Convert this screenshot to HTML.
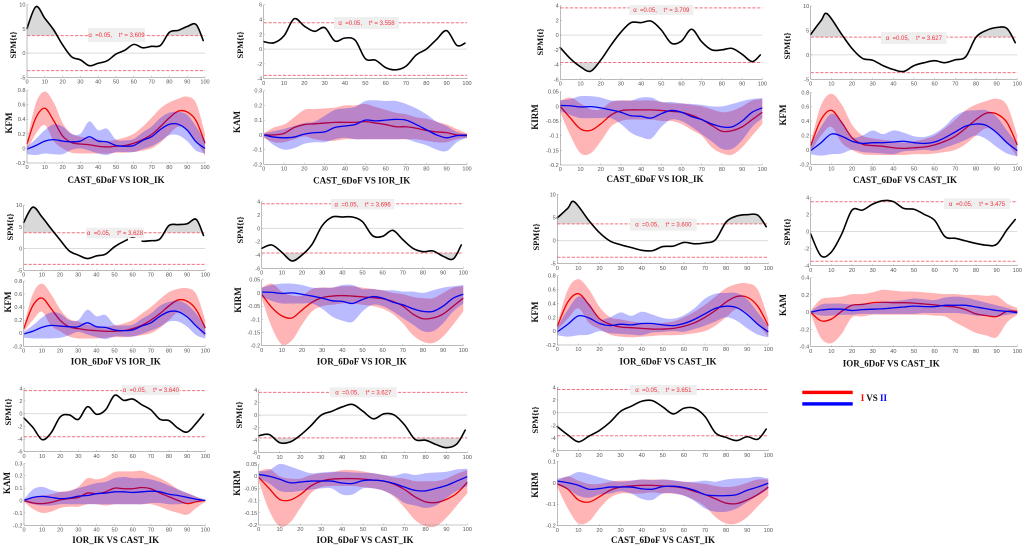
<!DOCTYPE html>
<html lang="en">
<head>
<meta charset="utf-8">
<title>SPM comparison panels</title>
<style>
html,body{margin:0;padding:0;background:#fff;width:1024px;height:549px;overflow:hidden}
svg{display:block;filter:blur(0.3px)}
.tick{font-family:"Liberation Sans",sans-serif;font-size:5.6px;fill:#555}
.lab{font-family:"Liberation Serif",serif;font-weight:bold;fill:#111}
.stat{font-family:"Liberation Sans",sans-serif;font-size:6px;fill:#f0303c;white-space:pre}
</style>
</head>
<body>
<svg id="chart" xmlns="http://www.w3.org/2000/svg" width="1024" height="549" viewBox="0 0 1024 549"></svg>
<script>
// Shared axis data
const gaitX=[0,5,10,15,20,25,30,35,40,45,50,55,60,65,70,75,80,85,90,95,100];
const spmX=[0,5,10,15,20,25,30,35,40,45,50,55,60,65,70,75,80,85,90,95,99];
const spmEarlyPeakX=[0,5,8,15,20,25,30,35,40,45,50,55,60,65,70,75,80,85,90,95,99];
const xTicks=[0,10,20,30,40,50,60,70,80,90,100];
const spmTicksA=[-5,0,5,10];
const spmTicksB=[-4,-2,0,2,4,6];
const spmTicksC=[-6,-4,-2,0,2,4];
const spmTicksD=[-4,-2,0,2,4];
const kfmTicks=[-0.2,0,0.2,0.4,0.6,0.8];
const kamTicksA=[-0.2,-0.1,0,0.1,0.2,0.3];
const kamTicksB=[-0.4,-0.2,0,0.2,0.4];
const kirmTicksA=[-0.2,-0.15,-0.1,-0.05,0,0.05];
const kirmTicksB=[-0.2,-0.1,0,0.1];

// Panel 1: CAST_6DoF VS IOR_IK (KFM)
const p1Spm=[5.1,9.6,7.2,4.8,1.7,-0.75,-1.4,-2.6,-2.1,-1.6,-0.2,0.6,1.8,1.1,1.4,1.6,4.3,4.7,5.5,5.9,2.6];
const p1RedMean=[.06,.42,.55,.38,.17,.08,.06,.05,.03,.02,.03,.04,.07,.12,.19,.30,.42,.51,.50,.38,.07];
const p1RedHi=[.10,.62,.78,.63,.35,.2,.16,.14,.12,.10,.12,.15,.2,.3,.42,.55,.63,.68,.71,.62,.2];
const p1RedLo=[-.03,.2,.32,.1,0,-.06,-.07,-.07,-.07,-.07,-.06,-.06,-.05,-.03,0,.08,.2,.3,.25,.1,-.1];
const p1BlueMean=[-.01,.04,.1,.12,.1,.09,.1,.16,.1,.09,.04,.03,.04,.11,.16,.26,.33,.33,.25,.09,0];
const p1BlueHi=[.02,.13,.25,.33,.3,.2,.2,.37,.25,.27,.12,.11,.13,.22,.3,.42,.49,.5,.46,.3,.1];
const p1BlueLo=[-.08,-.09,-.07,-.08,-.08,-.02,0,-.03,-.07,-.09,-.05,-.05,-.05,-.01,.03,.1,.18,.18,.1,-.03,-.07];

// Panel 2: CAST_6DoF VS IOR_IK (KAM)
const p2Spm=[1,0.85,1.8,4.1,3.1,2.4,2.9,1.1,1.5,1.2,-1.3,-1.5,-2.5,-2.8,-2.3,-0.8,0,1.3,2.5,0.5,0.8];
const p2RedMean=[0,0,.01,.05,.07,.075,.08,.085,.085,.085,.09,.08,.07,.055,.055,.045,.03,.02,.015,0,0];
const p2RedHi=[.01,.05,.07,.12,.17,.175,.18,.185,.2,.2,.21,.19,.17,.15,.14,.12,.11,.09,.07,.04,.01];
const p2RedLo=[-.02,-.05,-.05,-.03,-.01,-.03,-.04,-.04,-.03,-.03,-.03,-.03,-.03,-.03,-.03,-.03,-.04,-.05,-.05,-.03,-.02];
const p2BlueMean=[0,-.015,-.02,-.015,.005,.015,.02,.05,.06,.07,.1,.095,.1,.105,.1,.07,.035,0,-.02,-.005,-.005];
const p2BlueHi=[.01,.025,.04,.06,.08,.09,.13,.17,.18,.19,.23,.235,.23,.23,.21,.18,.14,.09,.06,.02,.005];
const p2BlueLo=[-.01,-.07,-.1,-.09,-.06,-.05,-.05,-.03,-.02,-.03,-.03,-.03,-.03,-.03,-.03,-.05,-.07,-.1,-.11,-.05,-.02];

// Panel 3: CAST_6DoF VS IOR_IK (KIRM)
const p3Spm=[-1.7,-3.2,-4.3,-4.9,-3.4,-1.4,0.4,1.7,1.7,1.9,0.7,-1.1,-0.8,0.8,-0.9,-2,-2,-1.8,-2.6,-3.6,-2.7];
const p3RedMean=[0,-.04,-.077,-.082,-.06,-.03,-.015,-.012,-.012,-.012,-.014,-.017,-.02,-.03,-.045,-.065,-.085,-.083,-.07,-.045,-.02];
const p3RedHi=[.02,.03,.01,-.01,-.01,.015,.02,.02,.02,.02,.015,.01,.01,.005,0,-.01,-.02,-.015,0,.02,.025];
const p3RedLo=[-.02,-.1,-.16,-.16,-.12,-.07,-.05,-.045,-.045,-.045,-.05,-.05,-.06,-.08,-.1,-.14,-.16,-.165,-.14,-.1,-.06];
const p3BlueMean=[.003,.002,-.002,-.001,-.005,-.012,-.02,-.032,-.034,-.04,-.025,-.014,-.02,-.035,-.045,-.06,-.07,-.07,-.05,-.02,-.005];
const p3BlueHi=[.02,.025,.035,.035,.03,.02,.02,.02,.03,.03,.015,.015,.01,.008,.005,0,0,.008,.018,.025,.028];
const p3BlueLo=[-.015,-.03,-.04,-.04,-.04,-.04,-.06,-.09,-.105,-.11,-.07,-.045,-.05,-.07,-.095,-.12,-.145,-.145,-.115,-.07,-.04];

// Panel 4: CAST_6DoF VS CAST_IK (KFM)
const p4Spm=[4.2,7,8.4,4.2,1.3,-0.7,-1.1,-2.2,-3,-3.4,-2.2,-1.6,-1.2,-1.6,-1,-0.4,3.6,5,5.6,5.4,2.5];
const p4RedMean=[.06,.42,.55,.38,.17,.08,.06,.05,.03,.02,.03,.04,.07,.12,.19,.30,.42,.51,.50,.38,.07];
const p4RedHi=[.10,.62,.78,.63,.35,.2,.16,.14,.12,.10,.12,.15,.2,.3,.42,.55,.63,.68,.71,.62,.2];
const p4RedLo=[-.03,.2,.32,.1,0,-.06,-.07,-.07,-.07,-.07,-.06,-.06,-.05,-.03,0,.08,.2,.3,.25,.1,-.1];
const p4BlueMean=[-.01,.1,.22,.19,.12,.09,.1,.1,.11,.12,.1,.09,.11,.17,.25,.33,.36,.34,.24,.1,-.01];
const p4BlueHi=[.07,.32,.5,.4,.18,.2,.27,.22,.27,.24,.19,.18,.23,.33,.47,.54,.55,.55,.46,.27,.08];
const p4BlueLo=[-.06,-.08,-.06,-.05,0,-.03,-.04,-.05,-.06,-.02,-.01,0,-.01,.03,.08,.14,.2,.15,.04,-.05,-.09];

// Panel 5: IOR_6DoF VS IOR_IK (KFM)
const p5Spm=[6,9.5,7.3,4.6,2,-0.5,-1.5,-2.3,-1.7,-1.3,0.4,1.6,2.4,1.7,1.8,2.2,5.3,5.5,5.7,6.7,3];
const p5RedMean=[.07,.42,.54,.38,.2,.1,.07,.05,.04,.03,.03,.04,.07,.12,.2,.3,.42,.51,.49,.36,.08];
const p5RedHi=[.1,.6,.76,.6,.37,.22,.18,.13,.11,.1,.12,.15,.2,.3,.4,.52,.63,.68,.69,.6,.2];
const p5RedLo=[.02,.2,.33,.12,.03,-.05,-.08,-.08,-.08,-.07,-.06,-.06,-.05,-.03,0,.08,.2,.32,.27,.1,-.05];
const p5BlueMean=[-.01,.03,.09,.12,.11,.1,.1,.16,.1,.09,.05,.04,.05,.11,.16,.26,.33,.33,.25,.11,-.01];
const p5BlueHi=[.02,.12,.24,.32,.3,.2,.2,.36,.26,.28,.13,.12,.13,.22,.3,.42,.48,.5,.44,.3,.1];
const p5BlueLo=[-.07,-.08,-.08,-.08,-.07,-.03,.02,-.02,-.06,-.09,-.05,-.05,-.05,-.01,.04,.1,.18,.18,.1,-.03,-.08];

// Panel 6: IOR_6DoF VS IOR_IK (KIRM)
const p6Spm=[-3,-2.5,-3.6,-4.9,-4,-2.4,0.4,1.7,1.7,1.7,1,-1.1,-1.2,-0.3,-1.7,-3,-3.5,-3.4,-4.2,-4.6,-2.5];
const p6RedMean=[-.005,-.055,-.087,-.095,-.065,-.035,-.018,-.012,-.01,-.012,-.015,-.018,-.022,-.032,-.05,-.08,-.098,-.095,-.08,-.05,-.02];
const p6RedHi=[.02,.035,.005,-.01,-.01,.015,.02,.02,.025,.025,.02,.015,.01,0,-.005,-.015,-.02,-.02,0,.02,.025];
const p6RedLo=[-.02,-.13,-.195,-.18,-.12,-.07,-.05,-.045,-.04,-.04,-.045,-.05,-.06,-.08,-.115,-.16,-.185,-.19,-.165,-.12,-.07];
const p6BlueMean=[.003,.002,-.002,0,-.005,-.012,-.02,-.03,-.032,-.04,-.025,-.014,-.02,-.035,-.045,-.06,-.07,-.07,-.05,-.02,-.005];
const p6BlueHi=[.02,.03,.035,.035,.03,.02,.02,.02,.03,.03,.015,.015,.01,.01,.005,.005,0,.01,.02,.025,.03];
const p6BlueLo=[-.015,-.03,-.04,-.04,-.04,-.04,-.06,-.09,-.105,-.11,-.07,-.045,-.05,-.07,-.095,-.12,-.145,-.145,-.115,-.07,-.04];

// Panel 7: IOR_6DoF VS CAST_IK (KFM)
const p7Spm=[4.9,7,8.4,4.3,1.7,-0.1,-0.9,-1.5,-2.1,-2.2,-1.3,-1.2,-0.4,-0.7,-0.5,0.2,4,5.3,5.6,5.5,3];
const p7RedMean=[.07,.42,.54,.38,.18,.1,.06,.05,.04,.03,.03,.04,.07,.12,.2,.3,.42,.5,.49,.36,.08];
const p7RedHi=[.1,.6,.75,.6,.35,.2,.17,.14,.12,.1,.12,.14,.2,.28,.38,.5,.62,.68,.69,.6,.18];
const p7RedLo=[.02,.18,.33,.12,.03,-.05,-.08,-.09,-.08,-.07,-.06,-.06,-.05,-.03,0,.08,.2,.32,.26,.1,-.08];
const p7BlueMean=[-.01,.1,.22,.19,.11,.08,.1,.09,.11,.11,.09,.08,.11,.17,.25,.33,.36,.34,.24,.1,-.01];
const p7BlueHi=[.06,.31,.5,.4,.18,.2,.27,.22,.28,.24,.19,.18,.23,.33,.47,.54,.55,.55,.46,.27,.07];
const p7BlueLo=[-.06,-.08,-.06,-.05,0,-.03,-.04,-.05,-.06,-.02,-.01,0,-.01,.03,.08,.14,.2,.15,.04,-.05,-.09];

// Panel 8: IOR_6DoF VS CAST_IK (KAM)
const p8Spm=[-0.3,-2.85,-2.4,-0.3,2.5,2.5,3.2,3.6,3.5,2.7,2.6,2,1.3,-0.6,-0.8,-1.1,-1.4,-1.6,-1.5,0.2,1.4];
const p8RedMean=[0,-.1,-.08,.01,.08,.09,.11,.115,.11,.11,.105,.095,.085,.07,.06,.03,-.02,-.04,-.05,.01,.01];
const p8RedHi=[.02,.15,.17,.18,.21,.21,.23,.26,.25,.24,.24,.23,.22,.21,.21,.2,.2,.19,.19,.1,.05];
const p8RedLo=[-.02,-.3,-.36,-.25,-.06,-.05,-.03,-.03,-.03,-.03,-.03,-.03,-.04,-.05,-.12,-.18,-.24,-.27,-.29,-.12,-.03];
const p8BlueMean=[0,.025,.035,.035,.02,.03,.035,.04,.05,.06,.07,.065,.065,.08,.08,.08,.06,.04,.02,.01,-.005];
const p8BlueHi=[.01,.09,.1,.1,.09,.1,.1,.12,.13,.14,.16,.15,.14,.17,.18,.17,.14,.11,.08,.05,.01];
const p8BlueLo=[-.01,-.04,-.04,-.03,-.03,-.02,-.02,-.02,-.02,-.02,-.02,-.01,-.01,-.01,-.01,-.02,-.04,-.04,-.05,-.03,-.02];

// Panel 9: IOR_IK VS CAST_IK (KAM)
const p9Spm=[-0.7,-2.2,-4.1,-3,-0.5,-0.2,-0.9,1.1,-0.1,0.6,2.9,2.1,2.3,1.4,0.6,-0.9,-1.1,-2.3,-2.9,-1.5,-0.1];
const p9RedMean=[0,-.02,-.025,-.015,.005,.015,.025,.06,.055,.07,.1,.095,.095,.105,.095,.06,.03,0,-.025,-.01,0];
const p9RedHi=[.01,.03,.04,.05,.07,.08,.11,.18,.17,.19,.23,.235,.235,.24,.21,.18,.14,.09,.06,.03,.005];
const p9RedLo=[-.01,-.07,-.1,-.09,-.06,-.05,-.05,-.03,-.03,-.04,-.03,-.03,-.03,-.03,-.03,-.05,-.08,-.1,-.115,-.06,-.01];
const p9BlueMean=[0,.025,.033,.025,.015,.02,.035,.04,.055,.06,.07,.07,.065,.07,.075,.07,.05,.04,.025,.01,0];
const p9BlueHi=[.01,.09,.11,.085,.07,.075,.1,.12,.14,.15,.18,.19,.18,.18,.17,.15,.12,.09,.06,.03,.005];
const p9BlueLo=[-.01,-.03,-.04,-.04,-.03,-.03,-.03,-.03,-.03,-.03,-.03,-.03,-.03,-.03,-.02,-.02,-.03,-.03,-.02,-.01,0];

// Panel 10: IOR_6DoF VS CAST_IK (KIRM)
const p10Spm=[-3.3,-3.1,-4.4,-4.3,-3.2,-1.7,0,0.6,1.3,1.7,0.6,-0.6,0.2,0,-1.6,-3.9,-4,-4.7,-5.2,-4.6,-2.4];
const p10RedMean=[-.005,-.05,-.095,-.098,-.075,-.04,-.02,-.012,-.01,-.01,-.012,-.016,-.02,-.033,-.055,-.085,-.105,-.108,-.095,-.07,-.025];
const p10RedHi=[.02,.03,0,-.01,-.01,.005,.012,.015,.025,.025,.02,.012,.005,-.005,-.01,-.02,-.02,-.02,-.01,.01,.025];
const p10RedLo=[-.02,-.14,-.205,-.19,-.13,-.07,-.045,-.04,-.04,-.04,-.045,-.05,-.06,-.085,-.13,-.18,-.205,-.205,-.17,-.12,-.07];
const p10BlueMean=[.007,0,-.012,-.027,-.024,-.02,-.02,-.02,-.028,-.03,-.018,-.016,-.02,-.03,-.045,-.058,-.06,-.05,-.038,-.02,-.002];
const p10BlueHi=[.02,.025,.05,.04,.025,.012,.015,.018,.018,.015,.014,.012,.005,.002,.012,.005,.012,.015,.018,.028,.03];
const p10BlueLo=[-.01,-.03,-.06,-.065,-.06,-.055,-.05,-.05,-.075,-.075,-.05,-.05,-.06,-.08,-.11,-.12,-.13,-.12,-.09,-.06,-.04];

// Panel 11: CAST_6DoF VS CAST_IK (KIRM)
const p11Spm=[-2.2,-3.5,-4.6,-3.7,-2.8,-1.5,0.2,1,1.8,1.9,0.9,-0.2,0.7,0.7,-0.6,-3.2,-3.9,-4.4,-3.8,-4.2,-2.6];
const p11RedMean=[-.005,-.03,-.08,-.09,-.065,-.035,-.02,-.015,-.012,-.012,-.015,-.018,-.025,-.04,-.055,-.075,-.095,-.097,-.08,-.055,-.02];
const p11RedHi=[.01,.03,.01,-.005,-.005,.005,.01,.01,.015,.015,.015,.01,.005,0,-.005,-.015,-.02,-.015,0,.015,.015];
const p11RedLo=[-.02,-.12,-.19,-.18,-.12,-.07,-.05,-.05,-.05,-.045,-.05,-.05,-.06,-.08,-.11,-.16,-.19,-.19,-.16,-.11,-.06];
const p11BlueMean=[.008,0,-.012,-.03,-.027,-.02,-.02,-.02,-.028,-.03,-.018,-.016,-.022,-.035,-.055,-.06,-.06,-.055,-.035,-.02,-.002];
const p11BlueHi=[.02,.03,.05,.04,.025,.012,.005,.01,.015,.012,.015,.012,.005,.005,.01,.005,.015,.02,.022,.028,.02];
const p11BlueLo=[-.01,-.03,-.06,-.07,-.055,-.05,-.04,-.05,-.075,-.08,-.05,-.05,-.06,-.085,-.12,-.135,-.135,-.12,-.09,-.06,-.03];

const panels=[
 {key:'cast6dof-ior-ik-kfm',title:'CAST_6DoF VS IOR_IK',tx:116,ty:180,measure:'KFM',t:'3.609',tv:3.609,x0:27,x1:205,st:4.7,sb:77.3,lt:90,lb:163,sd:[-5,10],ld:[-0.2,0.8],sTicks:spmTicksA,lTicks:kfmTicks,sl:[13,45],ll:[9,123],box:[88,145,28,42],up:true,down:false,sx:spmX,spm:p1Spm,rm:p1RedMean,rh:p1RedHi,rl:p1RedLo,bm:p1BlueMean,bh:p1BlueHi,bl:p1BlueLo},
 {key:'cast6dof-ior-ik-kam',title:'CAST_6DoF VS IOR_IK',tx:361.7,ty:180.7,measure:'KAM',t:'3.558',tv:3.558,x0:263.7,x1:467,st:4.7,sb:78.7,lt:90.7,lb:164.3,sd:[-4,6],ld:[-0.2,0.3],sTicks:spmTicksB,lTicks:kamTicksA,sl:[240,45],ll:[237,122],box:[334,399,17,29],up:false,down:false,sx:spmX,spm:p2Spm,rm:p2RedMean,rh:p2RedHi,rl:p2RedLo,bm:p2BlueMean,bh:p2BlueHi,bl:p2BlueLo},
 {key:'cast6dof-ior-ik-kirm',title:'CAST_6DoF VS IOR_IK',tx:655,ty:179,measure:'KIRM',t:'3.709',tv:3.709,x0:560.3,x1:762.3,st:5.7,sb:79.3,lt:91.7,lb:165,sd:[-6,4],ld:[-0.2,0.05],sTicks:spmTicksC,lTicks:kirmTicksA,sl:[540,42],ll:[535,117],box:[629.3,693.3,5,15],up:false,down:true,sx:spmX,spm:p3Spm,rm:p3RedMean,rh:p3RedHi,rl:p3RedLo,bm:p3BlueMean,bh:p3BlueHi,bl:p3BlueLo},
 {key:'cast6dof-cast-ik-kfm',title:'CAST_6DoF VS CAST_IK',tx:905,ty:180,measure:'KFM',t:'3.627',tv:3.627,x0:810.7,x1:1017.3,st:6,sb:79.3,lt:92.3,lb:164.3,sd:[-5,10],ld:[-0.2,0.8],sTicks:spmTicksA,lTicks:kfmTicks,sl:[787,46],ll:[783,115],box:[881,946.7,32,44],up:true,down:false,sx:spmEarlyPeakX,spm:p4Spm,rm:p4RedMean,rh:p4RedHi,rl:p4RedLo,bm:p4BlueMean,bh:p4BlueHi,bl:p4BlueLo},
 {key:'ior6dof-ior-ik-kfm',title:'IOR_6DoF VS IOR_IK',tx:115.7,ty:361.7,measure:'KFM',t:'3.628',tv:3.628,x0:23.7,x1:205.3,st:205,sb:270.3,lt:281,lb:346.3,sd:[-5,10],ld:[-0.2,0.8],sTicks:spmTicksA,lTicks:kfmTicks,sl:[10,227],ll:[8,302],box:[86,144,227.7,238.3],up:true,down:false,gap:[128,135,141.5,10],sx:spmX,spm:p5Spm,rm:p5RedMean,rh:p5RedHi,rl:p5RedLo,bm:p5BlueMean,bh:p5BlueHi,bl:p5BlueLo},
 {key:'ior6dof-ior-ik-kirm',title:'IOR_6DoF VS IOR_IK',tx:361.7,ty:361.7,measure:'KIRM',t:'3.696',tv:3.696,x0:261.7,x1:463.3,st:201.7,sb:268.3,lt:279.7,lb:345.7,sd:[-6,4],ld:[-0.2,0.05],sTicks:spmTicksC,lTicks:kirmTicksA,sl:[240,230],ll:[238,300],box:[331,394.3,199,209.3],up:false,down:true,sx:spmX,spm:p6Spm,rm:p6RedMean,rh:p6RedHi,rl:p6RedLo,bm:p6BlueMean,bh:p6BlueHi,bl:p6BlueLo},
 {key:'ior6dof-cast-ik-kfm',title:'IOR_6DoF VS CAST_IK',tx:668,ty:361.7,measure:'KFM',t:'3.600',tv:3.6,x0:557.3,x1:768.3,st:194.3,sb:263.7,lt:275.7,lb:345,sd:[-5,10],ld:[-0.2,0.8],sTicks:spmTicksA,lTicks:kfmTicks,sl:[536,237],ll:[535,312],box:[630,696.7,218.3,230.7],up:true,down:false,sx:spmEarlyPeakX,spm:p7Spm,rm:p7RedMean,rh:p7RedHi,rl:p7RedLo,bm:p7BlueMean,bh:p7BlueHi,bl:p7BlueLo},
 {key:'ior6dof-cast-ik-kam',title:'IOR_6DoF VS CAST_IK',tx:891.3,ty:363.3,measure:'KAM',t:'3.475',tv:3.475,x0:810.7,x1:1017.3,st:197.3,sb:265.7,lt:277.7,lb:346.7,sd:[-4,4],ld:[-0.4,0.4],sTicks:spmTicksD,lTicks:kamTicksB,sl:[787,232],ll:[783,305],box:[944,1010,198.3,209],up:false,down:false,sx:spmX,spm:p8Spm,rm:p8RedMean,rh:p8RedHi,rl:p8RedLo,bm:p8BlueMean,bh:p8BlueHi,bl:p8BlueLo},
 {key:'ior-ik-cast-ik-kam',title:'IOR_IK VS CAST_IK',tx:115.7,ty:540,measure:'KAM',t:'3.640',tv:3.64,x0:24,x1:205.3,st:388.3,sb:451.7,lt:463.3,lb:525.3,sd:[-6,4],ld:[-0.2,0.3],sTicks:spmTicksC,lTicks:kamTicksA,sl:[8,412],ll:[7,483],box:[121.7,180,385,395],up:false,down:false,sx:spmX,spm:p9Spm,rm:p9RedMean,rh:p9RedHi,rl:p9RedLo,bm:p9BlueMean,bh:p9BlueHi,bl:p9BlueLo},
 {key:'ior6dof-cast-ik-kirm',title:'IOR_6DoF VS CAST_IK',tx:365,ty:540,measure:'KIRM',t:'3.627',tv:3.627,x0:258.7,x1:467.3,st:390,sb:452.7,lt:464,lb:525,sd:[-6,4],ld:[-0.2,0.05],sTicks:spmTicksC,lTicks:kirmTicksA,sl:[239,415],ll:[237,483],box:[330,396.7,387.3,397.3],up:false,down:true,sx:spmX,spm:p10Spm,rm:p10RedMean,rh:p10RedHi,rl:p10RedLo,bm:p10BlueMean,bh:p10BlueHi,bl:p10BlueLo},
 {key:'cast6dof-cast-ik-kirm',title:'CAST_6DoF VS CAST_IK',tx:663,ty:540,measure:'KIRM',t:'3.651',tv:3.651,x0:557.3,x1:768.3,st:387.3,sb:450.7,lt:461.3,lb:525.7,sd:[-6,4],ld:[-0.2,0.1],sTicks:spmTicksC,lTicks:kirmTicksB,sl:[535,420],ll:[535,485],box:[630,696.7,385,395],up:false,down:false,sx:spmX,spm:p11Spm,rm:p11RedMean,rh:p11RedHi,rl:p11RedLo,bm:p11BlueMean,bh:p11BlueHi,bl:p11BlueLo}
];

const svg=document.getElementById('chart');
const NS='http://www.w3.org/2000/svg';
function make(parent,tag,attrs,txt){
  const el=document.createElementNS(NS,tag);
  for(const k in attrs){el.setAttribute(k,attrs[k]);}
  if(txt!==undefined){el.textContent=txt;}
  parent.appendChild(el);
  return el;
}
function scale(d0,d1,r0,r1){return v=>r0+(v-d0)*(r1-r0)/(d1-d0);}
function seg(pts){
  let s='';
  for(let i=0;i<pts.length-1;i++){
    const p0=pts[Math.max(0,i-1)],p1=pts[i],p2=pts[i+1],p3=pts[Math.min(pts.length-1,i+2)];
    s+='C'+(p1[0]+(p2[0]-p0[0])/6).toFixed(2)+' '+(p1[1]+(p2[1]-p0[1])/6).toFixed(2)+' '+(p2[0]-(p3[0]-p1[0])/6).toFixed(2)+' '+(p2[1]-(p3[1]-p1[1])/6).toFixed(2)+' '+p2[0].toFixed(2)+' '+p2[1].toFixed(2);
  }
  return s;
}
function curve(pts){return 'M'+pts[0][0].toFixed(2)+' '+pts[0][1].toFixed(2)+seg(pts);}
function fmt(v){return String(Math.round(v*1000)/1000);}

panels.forEach((p,pi)=>{
  const g=make(svg,'g',{});
  
  
  const xS=scale(0,100,p.x0,p.x1);
  const yS=scale(p.sd[0],p.sd[1],p.sb,p.st);
  const yL=scale(p.ld[0],p.ld[1],p.lb,p.lt);
  const spmPts=p.sx.map((x,i)=>[xS(x),yS(p.spm[i])]);

  // SPM shading beyond threshold
  const ty=yS(p.tv), tyN=yS(-p.tv);
  if(p.up||p.down){
    const cid='clip'+pi;
    const cp=make(g,'clipPath',{id:cid+'u'});
    make(cp,'rect',{x:p.x0,y:p.st,width:p.x1-p.x0,height:Math.max(0,ty-p.st)});
    const cd=make(g,'clipPath',{id:cid+'d'});
    make(cd,'rect',{x:p.x0,y:tyN,width:p.x1-p.x0,height:Math.max(0,p.sb-tyN)});
    const last=spmPts[spmPts.length-1][0], first=spmPts[0][0];
    if(p.up){
      const a=make(g,'path',{d:curve(spmPts)+'L'+last+' '+ty+'L'+first+' '+ty+'Z',fill:'#d9d9d9','clip-path':'url(#'+cid+'u)'});
      
      
    }
    if(p.down){
      const b=make(g,'path',{d:curve(spmPts)+'L'+last+' '+tyN+'L'+first+' '+tyN+'Z',fill:'#d9d9d9','clip-path':'url(#'+cid+'d)'});
      
      
    }
  }

  // zero line
  const zero=make(g,'line',{x1:p.x0,x2:p.x1,y1:yS(0),y2:yS(0),stroke:'#dcdcdc','stroke-width':1});
  
  

  // threshold lines
  [ty,tyN].forEach((yy,k)=>{
    const l=make(g,'line',{x1:p.x0,x2:p.x1,y1:yy,y2:yy,stroke:'#f4707e','stroke-width':1,'stroke-dasharray':'3.2 1.6'});
    
    
  });

  // stat label
  const r=make(g,'rect',{x:p.box[0],y:p.box[2],width:p.box[1]-p.box[0],height:p.box[3]-p.box[2],fill:'#efefef'});
  
  
  const st=make(g,'text',{x:(p.box[0]+p.box[1])/2,y:(p.box[2]+p.box[3])/2+2.1,'text-anchor':'middle',class:'stat'},'\u03b1  =0.05,    t* = '+p.t);
  
  

  // SPM curve
  const sc=make(g,'path',{d:curve(spmPts),fill:'none',stroke:'#000','stroke-width':1.6,'stroke-linejoin':'round','stroke-linecap':'round'});
  
  
  if(p.gap){
    const m=make(g,'rect',{x:p.gap[0],y:p.gap[1]+103,width:p.gap[2]-p.gap[0],height:p.gap[3],fill:'#fff'});
    
    
  }

  // Bands and means
  const band=(hi,lo)=>{
    const up=gaitX.map((x,i)=>[xS(x),yL(hi[i])]);
    const dn=gaitX.map((x,i)=>[xS(x),yL(lo[i])]).reverse();
    return curve(up)+'L'+dn[0][0].toFixed(2)+' '+dn[0][1].toFixed(2)+seg(dn)+'Z';
  };
  const mean=a=>curve(gaitX.map((x,i)=>[xS(x),yL(a[i])]));
  const rb=make(g,'path',{d:band(p.rh,p.rl),fill:'#ff0000','fill-opacity':0.29});
  
  
  const rm=make(g,'path',{d:mean(p.rm),fill:'none',stroke:'#f00000','stroke-width':1.3});
  
  
  const bb=make(g,'path',{d:band(p.bh,p.bl),fill:'#0000ff','fill-opacity':0.27});
  
  
  const bm=make(g,'path',{d:mean(p.bm),fill:'none',stroke:'#0000f0','stroke-width':1.3});
  
  

  // Axes
  [[p.st,p.sb,p.sTicks,yS,'spm'],[p.lt,p.lb,p.lTicks,yL,'moment']].forEach(ax=>{
    const top=ax[0],bot=ax[1],ticks=ax[2],sc2=ax[3],nm=ax[4];
    const yAxis=make(g,'line',{x1:p.x0,x2:p.x0,y1:top,y2:bot,stroke:'#909090','stroke-width':0.6});
    
    
    const xAxis=make(g,'line',{x1:p.x0,x2:p.x1,y1:bot,y2:bot,stroke:'#909090','stroke-width':0.6});
    
    
    ticks.forEach(v=>{
      make(g,'line',{x1:p.x0,x2:p.x0+1.5,y1:sc2(v),y2:sc2(v),stroke:'#909090','stroke-width':0.4});
      const tl=make(g,'text',{x:p.x0-1.5,y:sc2(v)+2,'text-anchor':'end',class:'tick'},fmt(v));
      
      
    });
    xTicks.forEach(v=>{
      make(g,'line',{x1:xS(v),x2:xS(v),y1:bot,y2:bot-1.5,stroke:'#909090','stroke-width':0.4});
      const tl=make(g,'text',{x:xS(v),y:bot+6.2,'text-anchor':'middle',class:'tick'},String(v));
      
      
    });
  });

  // Labels
  const s1=make(g,'text',{x:0,y:0,transform:'translate('+(p.sl[0]+2.9)+' '+p.sl[1]+') rotate(-90)','text-anchor':'middle',class:'lab','font-size':8.4},'SPM{t}');
  
  
  const s2=make(g,'text',{x:0,y:0,transform:'translate('+(p.ll[0]+3)+' '+p.ll[1]+') rotate(-90)','text-anchor':'middle',class:'lab','font-size':9},p.measure);
  
  
  const tt=make(g,'text',{x:p.tx,y:p.ty+3,'text-anchor':'middle',class:'lab','font-size':9},p.title);
  
  
});

// Legend
const lg=make(svg,'g',{});


const l1=make(lg,'rect',{x:802.3,y:390.7,width:50.4,height:3.4,fill:'#f00'});


const l2=make(lg,'rect',{x:802.3,y:402.2,width:50.4,height:3.4,fill:'#00f'});


const lt=make(lg,'text',{x:860.7,y:401,class:'lab','font-size':9});


make(lt,'tspan',{fill:'#f00'},'I');
make(lt,'tspan',{fill:'#111'},' VS ');
make(lt,'tspan',{fill:'#00f'},'II');
</script>
</body>
</html>
